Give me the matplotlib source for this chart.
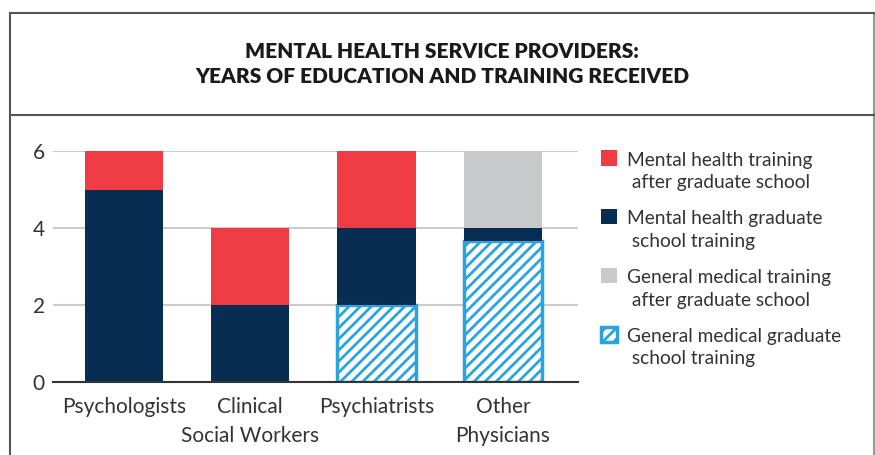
import matplotlib.pyplot as plt
from matplotlib.patches import Rectangle
from matplotlib.lines import Line2D
from matplotlib.legend_handler import HandlerPatch
import numpy as np

plt.rcParams['font.family'] = ['Lato', 'DejaVu Sans']
plt.rcParams['hatch.linewidth'] = 2.0

categories = ['Psychologists', 'Clinical\nSocial Workers', 'Psychiatrists', 'Other\nPhysicians']
gen_med_grad = [0, 0, 2, 3.67]
mh_grad = [5, 2, 2, 0.33]
gen_med_after = [0, 0, 0, 2]
mh_after = [1, 2, 2, 0]

labels = ['Mental health training\n after graduate school',
          'Mental health graduate\n school training',
          'General medical training\n after graduate school',
          'General medical graduate\n school training']

red = '#EF3B44'
navy = '#082D52'
gray = '#C8C9CB'
blue = '#2BA3DC'


def top_square(legend, orig_handle, xdescent, ydescent, width, height, fontsize):
    # square handle aligned with the first line of a two-line label
    return Rectangle((-xdescent, -ydescent + 0.72 * fontsize), width, height)


fig = plt.figure(figsize=(8.75, 4.55), dpi=100)
ax = fig.add_axes([53 / 875, 1 - 382 / 455, (578 - 53) / 875, (382 - 151) / 455])

x = np.arange(len(categories))
w = 0.62
b1 = np.array(gen_med_grad)
b2 = b1 + np.array(mh_grad)
b3 = b2 + np.array(gen_med_after)

h4 = ax.bar(x, gen_med_grad, w, facecolor='white', edgecolor=blue, hatch='///', linewidth=2.5, zorder=3)
h2 = ax.bar(x, mh_grad, w, bottom=b1, color=navy, zorder=3)
h3 = ax.bar(x, gen_med_after, w, bottom=b2, color=gray, zorder=3)
h1 = ax.bar(x, mh_after, w, bottom=b3, color=red, zorder=3)

ax.set_xlim(-0.562, 3.594)
ax.set_ylim(0, 6)
ax.set_yticks([0, 2, 4, 6])
ax.set_xticks(x)
ax.set_xticklabels(categories, fontsize=15, color='#333333', linespacing=1.55)
ax.tick_params(axis='y', length=0, pad=6, labelsize=15, labelcolor='#333333')
ax.tick_params(axis='x', length=0, pad=11)
ax.grid(axis='y', color='#cccccc', linewidth=1.5, zorder=0)
for s in ['top', 'right', 'left']:
    ax.spines[s].set_visible(False)
ax.spines['bottom'].set_color('#333333')
ax.spines['bottom'].set_linewidth(1.5)
ax.spines['bottom'].set_zorder(4)

leg = fig.legend([h1[0], h2[0], h3[0], h4[0]], labels, loc='upper left',
                 bbox_to_anchor=(591 / 875, 1 - 142 / 455), frameon=False,
                 fontsize=13.8, handlelength=0.85, handleheight=0.85,
                 handletextpad=0.55, labelspacing=1.0, borderpad=0,
                 labelcolor='#333333',
                 handler_map={Rectangle: HandlerPatch(patch_func=top_square)})
for t in leg.get_texts():
    t.set_linespacing(1.4)

# frame around title and chart
fig.add_artist(Line2D([10 / 875, 10 / 875], [0, 1 - 13 / 455], color='#555555', lw=1.5))
fig.add_artist(Line2D([874 / 875, 874 / 875], [0, 1 - 13 / 455], color='#999999', lw=1.5))
fig.add_artist(Line2D([10 / 875, 874 / 875], [1 - 13 / 455, 1 - 13 / 455], color='#555555', lw=1.5))
fig.add_artist(Line2D([10 / 875, 874 / 875], [1 - 115 / 455, 1 - 115 / 455], color='#555555', lw=1.5))

fig.text(442 / 875, 1 - 64 / 455,
         'MENTAL HEALTH SERVICE PROVIDERS:\nYEARS OF EDUCATION AND TRAINING RECEIVED',
         ha='center', va='center', fontsize=15, fontweight='heavy',
         color='#1a1a1a', linespacing=1.4)

fig.savefig('out.png', dpi=100)
